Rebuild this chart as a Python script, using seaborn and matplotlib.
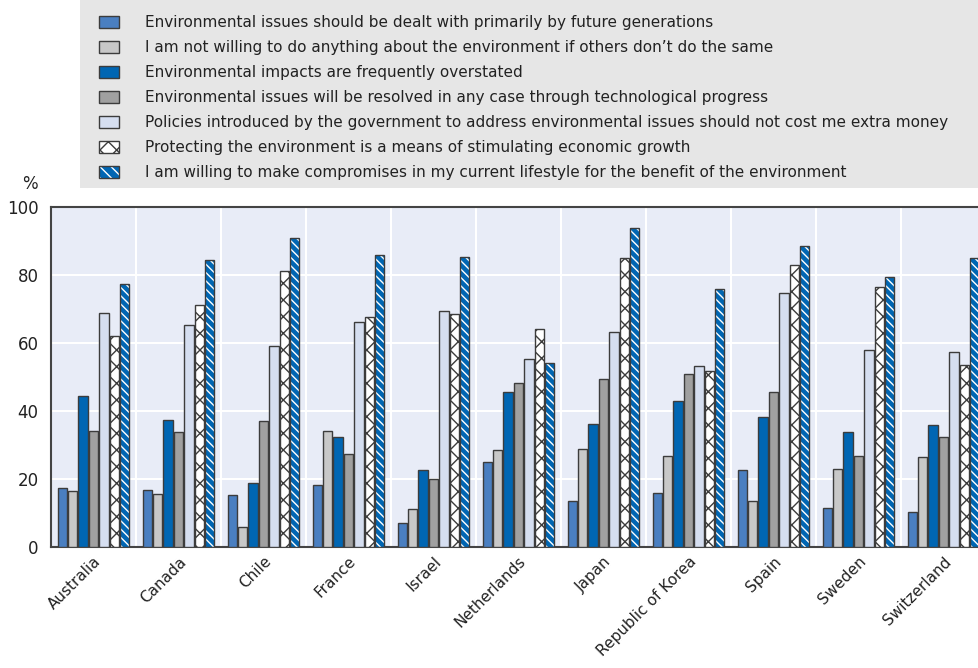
import matplotlib
matplotlib.use("Agg")
import matplotlib.pyplot as plt
from matplotlib.patches import Rectangle, Patch
from matplotlib.ticker import FixedLocator
import seaborn as sns
import pandas as pd

countries = ["Australia", "Canada", "Chile", "France", "Israel", "Netherlands",
             "Japan", "Republic of Korea", "Spain", "Sweden", "Switzerland"]

series = [
    "Environmental issues should be dealt with primarily by future generations",
    "I am not willing to do anything about the environment if others don\u2019t do the same",
    "Environmental impacts are frequently overstated",
    "Environmental issues will be resolved in any case through technological progress",
    "Policies introduced by the government to address environmental issues should not cost me extra money",
    "Protecting the environment is a means of stimulating economic growth",
    "I am willing to make compromises in my current lifestyle for the benefit of the environment",
]

future_generations = [17.4, 16.9, 15.2, 18.3, 7.1, 25.1, 13.5, 16.0, 22.6, 11.6, 10.2]
not_if_others = [16.6, 15.5, 6.0, 34.0, 11.2, 28.4, 28.8, 26.9, 13.5, 22.9, 26.4]
overstated = [44.4, 37.5, 18.8, 32.4, 22.7, 45.6, 36.1, 42.8, 38.3, 33.8, 35.8]
technology = [34.1, 33.8, 37.2, 27.4, 19.9, 48.3, 49.4, 50.8, 45.6, 26.9, 32.5]
no_extra_cost = [68.9, 65.3, 59.2, 66.2, 69.5, 55.3, 63.3, 53.1, 74.6, 57.8, 57.3]
economic_growth = [62.0, 71.2, 81.3, 67.6, 68.4, 64.0, 85.1, 51.9, 83.0, 76.6, 53.5]
compromises = [77.3, 84.3, 90.9, 86.0, 85.4, 54.0, 93.7, 75.8, 88.6, 79.4, 85.0]

values = [future_generations, not_if_others, overstated, technology,
          no_extra_cost, economic_growth, compromises]

colors = ["#4a7fc1", "#c8c8c8", "#0066b3", "#a0a0a0", "#d5def0", "#ffffff", "#0066b3"]
hatches = [None, None, None, None, None, "xx", "\\\\\\\\"]
white_hatch = [False, False, False, False, False, False, True]
edge = "#3c3c3c"

rows = []
for s, vals in zip(series, values):
    for c, v in zip(countries, vals):
        rows.append({"country": c, "series": s, "value": v})
df = pd.DataFrame(rows)

sns.set_theme(style="white")
plt.rcParams["font.family"] = ["DejaVu Sans"]
plt.rcParams["hatch.linewidth"] = 1.0

W, H = 979, 668
fig = plt.figure(figsize=(W / 100, H / 100), dpi=100)

# legend background
fig.patches.append(Rectangle((80 / W, 1 - 188 / H), 1.0, 188 / H,
                             transform=fig.transFigure, facecolor="#e6e6e6",
                             edgecolor="none", zorder=0))

ax = fig.add_axes([51 / W, 121 / H, 935 / W, 340 / H])
ax.set_facecolor("#e8ecf7")

sns.barplot(data=df, x="country", y="value", hue="series", order=countries,
            hue_order=series, palette=colors, saturation=1, width=0.86, gap=0.12,
            edgecolor=edge, linewidth=1.0, ax=ax, legend=False, zorder=3)

for cont, h, wh in zip(ax.containers, hatches, white_hatch):
    for p in list(cont):
        if h:
            p.set_hatch(h)
        if wh:
            # hatch drawn in white, outline redrawn on top
            p.set_edgecolor("white")
            p.set_linewidth(0)
            ax.add_patch(Rectangle((p.get_x(), p.get_y()), p.get_width(), p.get_height(),
                                   facecolor="none", edgecolor=edge, linewidth=1.0, zorder=4))

ax.set_ylim(0, 100)
ax.set_xlim(-0.5, len(countries) - 0.5)
ax.set_yticks([0, 20, 40, 60, 80, 100])
ax.set_ylabel("")
ax.set_xlabel("")
ax.xaxis.set_minor_locator(FixedLocator([i + 0.5 for i in range(len(countries) - 1)]))
ax.grid(True, axis="y", which="major", color="white", linewidth=1.5, zorder=0)
ax.grid(True, axis="x", which="minor", color="white", linewidth=1.5, zorder=0)
ax.grid(False, axis="x", which="major")
ax.set_axisbelow(True)
ax.tick_params(axis="y", length=0, pad=9, labelsize=12, labelcolor="#222222")
ax.tick_params(axis="x", which="major", length=0, pad=5, labelsize=11, labelcolor="#222222")
ax.tick_params(axis="x", which="minor", direction="in", length=6, color="#555555", width=1)
for lab in ax.get_xticklabels():
    lab.set_rotation(45)
    lab.set_ha("right")
    lab.set_rotation_mode("anchor")

for side in ["top", "bottom", "left", "right"]:
    ax.spines[side].set_color("#444444")
    ax.spines[side].set_linewidth(1.5)
    ax.spines[side].set_visible(True)

fig.text(30 / W, 1 - 184 / H, "%", ha="center", va="center", fontsize=12, color="#222222")

handles = []
for c, h, wh in zip(colors, hatches, white_hatch):
    if wh:
        hp = Patch(facecolor=c, edgecolor="white", linewidth=0, hatch="\\\\\\")
        op = Patch(facecolor="none", edgecolor=edge, linewidth=1.0)
        handles.append((hp, op))
    else:
        kw = dict(facecolor=c, edgecolor=edge, linewidth=1.0)
        if h:
            kw["hatch"] = h
        handles.append(Patch(**kw))

fig.legend(handles, series, loc="upper left", bbox_to_anchor=(99 / W, 1 - 15 / H),
           frameon=False, fontsize=11, handlelength=1.3, handleheight=0.85,
           handletextpad=1.7, labelspacing=0.66, borderaxespad=0, borderpad=0,
           labelcolor="#222222")

fig.savefig("out.png", dpi=100)
